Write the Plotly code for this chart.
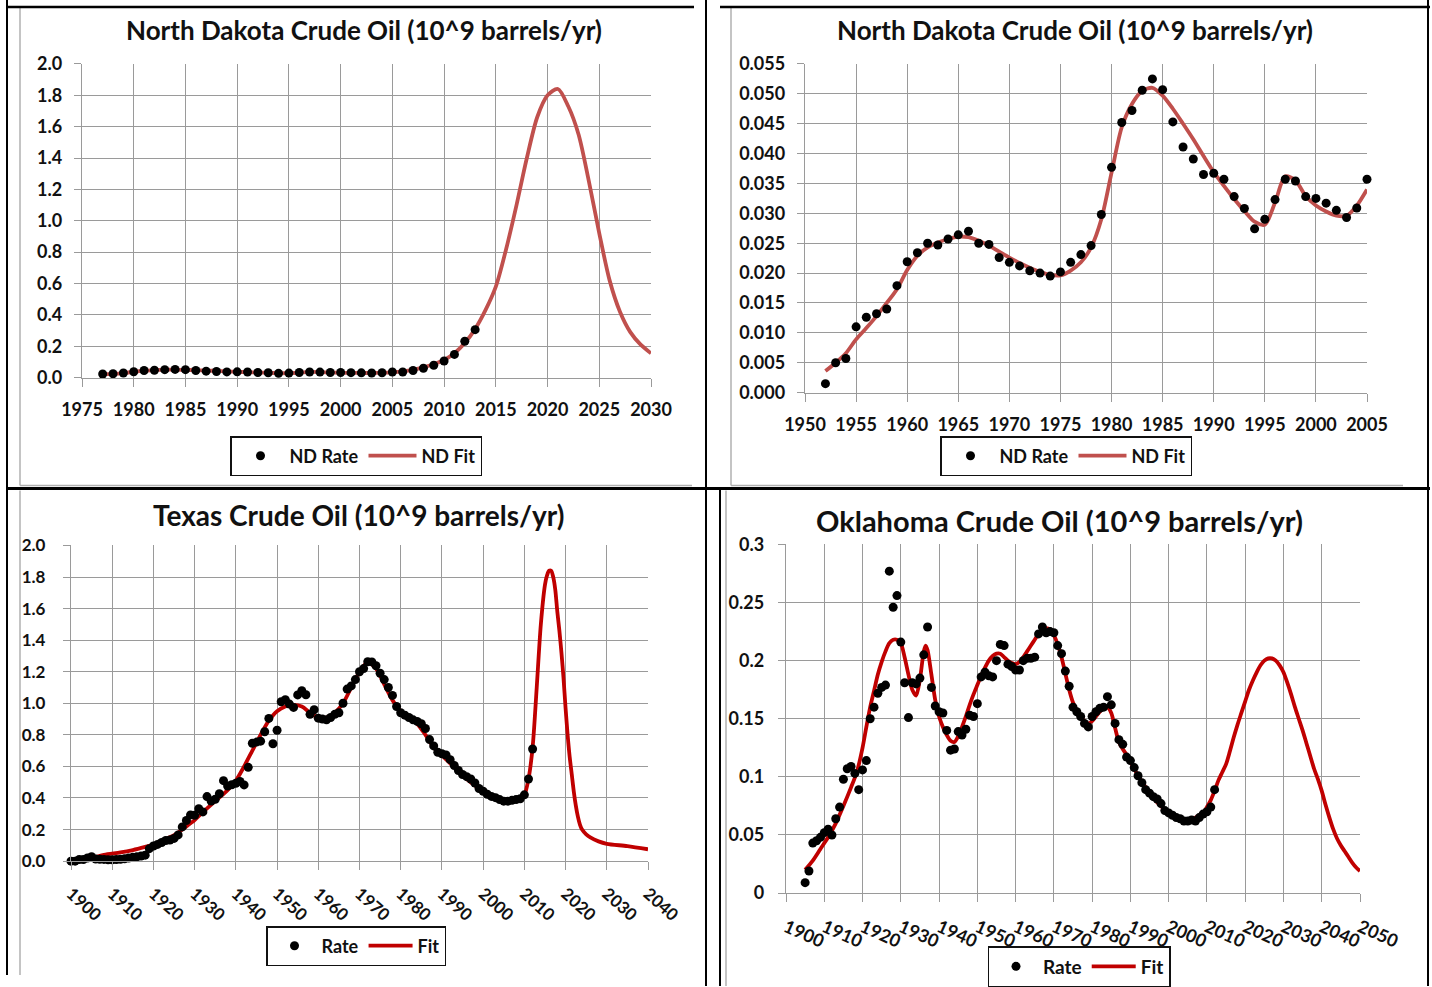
import plotly.graph_objects as go

W, H = 1432, 987

# ---------------- data (10^9 barrels / yr) ----------------
# North Dakota, long view
nd_years_a = list(range(1977, 2014))
nd_rate_a = [0.0231, 0.0246, 0.0298, 0.0377, 0.0452, 0.0472, 0.0506, 0.0525, 0.0507, 0.0453,
             0.0411, 0.0391, 0.0365, 0.0367, 0.0357, 0.0328, 0.0308, 0.0274, 0.0290, 0.0323,
             0.0357, 0.0354, 0.0328, 0.0325, 0.0317, 0.0305, 0.0293, 0.0309, 0.0357, 0.036,
             0.045, 0.060, 0.079, 0.106, 0.148, 0.232, 0.306]
nd_fit_years_a = list(range(1977, 2031))
nd_fit_a = [0.0218, 0.0243, 0.0290, 0.0368, 0.0444, 0.0483, 0.0505, 0.0510, 0.0497, 0.0475,
            0.0450, 0.0424, 0.0396, 0.0369, 0.0346, 0.0324, 0.0304, 0.0286, 0.0281, 0.0318,
            0.0362, 0.0355, 0.0329, 0.0313, 0.0303, 0.0296, 0.0296, 0.0313, 0.0340, 0.040,
            0.050, 0.065, 0.085, 0.112, 0.155, 0.22, 0.31, 0.43, 0.58, 0.82,
            1.10, 1.40, 1.66, 1.80, 1.84, 1.73, 1.55, 1.25, 0.92, 0.62,
            0.42, 0.29, 0.21, 0.155]

# North Dakota, 1952-2005 detail
nd_years_b = list(range(1952, 2006))
nd_rate_b = [0.0015, 0.0050, 0.0057, 0.0110, 0.0126, 0.0132, 0.0140, 0.0179, 0.0219, 0.0234,
             0.0250, 0.0247, 0.0257, 0.0264, 0.0270, 0.0250, 0.0248, 0.0226, 0.0218, 0.0212,
             0.0204, 0.0200, 0.0195, 0.0202, 0.0218, 0.0231, 0.0246, 0.0298, 0.0377, 0.0452,
             0.0472, 0.0506, 0.0525, 0.0507, 0.0453, 0.0411, 0.0391, 0.0365, 0.0367, 0.0357,
             0.0328, 0.0308, 0.0274, 0.0290, 0.0323, 0.0357, 0.0354, 0.0328, 0.0325, 0.0317,
             0.0305, 0.0293, 0.0309, 0.0357]
nd_fit_b = [0.0036, 0.0050, 0.0066, 0.0089, 0.0108, 0.0128, 0.0150, 0.0173, 0.0205, 0.0229,
            0.0243, 0.0251, 0.0257, 0.0261, 0.0260, 0.0254, 0.0246, 0.0236, 0.0226, 0.0217,
            0.0209, 0.0202, 0.0197, 0.0196, 0.0204, 0.0218, 0.0243, 0.0290, 0.0368, 0.0444,
            0.0483, 0.0505, 0.0510, 0.0497, 0.0475, 0.0450, 0.0424, 0.0396, 0.0369, 0.0346,
            0.0324, 0.0304, 0.0286, 0.0281, 0.0318, 0.0362, 0.0355, 0.0329, 0.0313, 0.0303,
            0.0296, 0.0296, 0.0313, 0.0340]

# Texas
tx_years = list(range(1900, 2013))
tx_rate = [0.000, 0.000, 0.010, 0.010, 0.020, 0.028, 0.013, 0.012, 0.011, 0.009,
           0.009, 0.010, 0.012, 0.015, 0.020, 0.024, 0.027, 0.032, 0.038, 0.079,
           0.096, 0.106, 0.118, 0.131, 0.134, 0.144, 0.166, 0.217, 0.257, 0.293,
           0.290, 0.332, 0.312, 0.409, 0.381, 0.392, 0.427, 0.510, 0.476, 0.484,
           0.493, 0.505, 0.483, 0.594, 0.747, 0.754, 0.760, 0.820, 0.904, 0.744,
           0.829, 1.010, 1.023, 0.995, 0.974, 1.053, 1.080, 1.054, 0.930, 0.959,
           0.906, 0.900, 0.895, 0.910, 0.930, 0.940, 1.000, 1.090, 1.110, 1.150,
           1.200, 1.220, 1.263, 1.262, 1.238, 1.190, 1.150, 1.100, 1.050, 0.980,
           0.940, 0.925, 0.910, 0.895, 0.885, 0.870, 0.840, 0.770, 0.730, 0.690,
           0.680, 0.672, 0.643, 0.606, 0.574, 0.549, 0.535, 0.520, 0.495, 0.460,
           0.443, 0.424, 0.410, 0.402, 0.390, 0.380, 0.380, 0.385, 0.390, 0.395,
           0.420, 0.520, 0.710]
tx_fit_years = [1900, 1905, 1908, 1912, 1915, 1918, 1920, 1922, 1925, 1928,
                1930, 1932, 1935, 1938, 1940, 1942, 1944, 1946, 1948, 1950,
                1952, 1954, 1956, 1958, 1960, 1962, 1964, 1966, 1968, 1970,
                1972, 1974, 1976, 1978, 1980, 1982, 1984, 1986, 1988, 1990,
                1992, 1994, 1996, 1998, 2000, 2002, 2004, 2006, 2008, 2009,
                2010, 2011, 2012, 2013, 2014, 2015, 2015.5, 2016, 2016.5, 2017,
                2017.5, 2018, 2018.5, 2019, 2019.5, 2020, 2020.5, 2021, 2021.5, 2022,
                2022.5, 2023, 2023.5, 2024, 2025, 2026, 2028, 2030, 2035, 2040]
tx_fit = [0.005, 0.020, 0.040, 0.055, 0.070, 0.090, 0.105, 0.130, 0.165, 0.220,
          0.260, 0.310, 0.380, 0.450, 0.510, 0.600, 0.700, 0.800, 0.890, 0.950,
          0.980, 0.990, 0.980, 0.940, 0.910, 0.910, 0.940, 1.000, 1.100, 1.200,
          1.260, 1.220, 1.120, 1.020, 0.950, 0.910, 0.870, 0.800, 0.720, 0.670,
          0.620, 0.570, 0.520, 0.480, 0.440, 0.410, 0.390, 0.380, 0.390, 0.400,
          0.420, 0.520, 0.720, 1.100, 1.500, 1.750, 1.810, 1.840, 1.840, 1.800,
          1.720, 1.580, 1.460, 1.320, 1.160, 0.970, 0.800, 0.660, 0.550, 0.440,
          0.350, 0.280, 0.230, 0.200, 0.170, 0.150, 0.125, 0.110, 0.095, 0.075]

# Oklahoma
ok_years = list(range(1905, 2013))
ok_rate = [0.009, 0.019, 0.043, 0.045, 0.048, 0.052, 0.055, 0.050, 0.064, 0.074,
           0.098, 0.107, 0.109, 0.103, 0.089, 0.106, 0.114, 0.150, 0.160, 0.172,
           0.177, 0.179, 0.277, 0.246, 0.256, 0.216, 0.181, 0.151, 0.181, 0.180,
           0.185, 0.205, 0.229, 0.177, 0.161, 0.156, 0.155, 0.140, 0.123, 0.124,
           0.139, 0.136, 0.141, 0.153, 0.152, 0.163, 0.186, 0.190, 0.187, 0.186,
           0.200, 0.214, 0.213, 0.197, 0.195, 0.192, 0.192, 0.200, 0.202, 0.202,
           0.203, 0.223, 0.229, 0.224, 0.225, 0.224, 0.213, 0.206, 0.191, 0.178,
           0.160, 0.156, 0.152, 0.146, 0.143, 0.152, 0.156, 0.159, 0.160, 0.169,
           0.162, 0.146, 0.132, 0.128, 0.117, 0.114, 0.108, 0.101, 0.095, 0.089,
           0.086, 0.083, 0.081, 0.077, 0.071, 0.069, 0.067, 0.065, 0.064, 0.062,
           0.062, 0.063, 0.062, 0.065, 0.068, 0.070, 0.074, 0.089]
ok_fit_years = [1905, 1907, 1909, 1911, 1913, 1915, 1917, 1918.5, 1920, 1921,
                1922, 1923, 1924, 1925, 1926, 1927, 1928, 1929, 1930, 1931,
                1932, 1933, 1934, 1935, 1936, 1936.5, 1937, 1938, 1939, 1940,
                1941, 1942, 1943, 1944, 1945, 1946, 1947, 1948, 1949, 1950,
                1951, 1952, 1953, 1954, 1955, 1956, 1957, 1958, 1959, 1960,
                1961, 1962, 1963, 1964, 1965, 1966, 1967, 1968, 1969, 1970,
                1971, 1972, 1973, 1974, 1975, 1976, 1977, 1978, 1979, 1980,
                1981, 1982, 1983, 1984, 1985, 1986, 1987, 1988, 1989, 1990,
                1991, 1992, 1993, 1994, 1995, 1996, 1997, 1998, 1999, 2000,
                2001, 2002, 2003, 2004, 2005, 2006, 2007, 2008, 2009, 2010,
                2011, 2012, 2013, 2014, 2015, 2016, 2017, 2018, 2019, 2020,
                2021, 2022, 2023, 2024, 2025, 2026, 2027, 2028, 2029, 2030,
                2031, 2032, 2033, 2034, 2035, 2036, 2037, 2038, 2039, 2040,
                2041, 2042, 2043, 2044, 2045, 2046, 2047, 2048, 2049, 2050]
ok_fit = [0.020, 0.028, 0.038, 0.048, 0.060, 0.075, 0.091, 0.104, 0.125, 0.143,
          0.160, 0.174, 0.188, 0.199, 0.208, 0.215, 0.218, 0.218, 0.215, 0.203,
          0.188, 0.175, 0.170, 0.184, 0.208, 0.213, 0.209, 0.188, 0.166, 0.152,
          0.143, 0.136, 0.131, 0.130, 0.135, 0.143, 0.152, 0.162, 0.171, 0.179,
          0.187, 0.194, 0.200, 0.204, 0.206, 0.206, 0.203, 0.200, 0.198, 0.197,
          0.199, 0.203, 0.208, 0.213, 0.218, 0.223, 0.227, 0.228, 0.227, 0.222,
          0.214, 0.203, 0.189, 0.175, 0.164, 0.157, 0.152, 0.148, 0.146, 0.148,
          0.152, 0.156, 0.159, 0.160, 0.155, 0.142, 0.130, 0.124, 0.119, 0.113,
          0.107, 0.101, 0.096, 0.091, 0.086, 0.082, 0.078, 0.075, 0.071, 0.069,
          0.067, 0.065, 0.063, 0.062, 0.062, 0.063, 0.065, 0.067, 0.069, 0.074,
          0.080, 0.088, 0.097, 0.104, 0.111, 0.122, 0.134, 0.145, 0.155, 0.165,
          0.175, 0.183, 0.190, 0.196, 0.200, 0.202, 0.202, 0.200, 0.196, 0.190,
          0.181, 0.171, 0.160, 0.150, 0.140, 0.129, 0.118, 0.107, 0.098, 0.088,
          0.076, 0.065, 0.055, 0.047, 0.041, 0.036, 0.031, 0.026, 0.022, 0.019]

# ---------------- styling ----------------
FONT = "Lato"
GRID = "#9a9a9a"
ND_RED = "#C0504D"
DARK_RED = "#C00000"
INK = "#111111"


def fx(px):
    return px / W


def fy(py):
    return 1 - py / H


fig = go.Figure()

panels = [
    dict(s="", lg="legend", x=(82, 651), y=(64, 378), xr=(1975, 2030), yr=(0, 2.0),
         xt=list(range(1975, 2031, 5)), yt=[i / 10 for i in range(0, 21, 2)],
         ytxt=[f"{i / 10:.1f}" for i in range(0, 21, 2)], fs=18, ang=0, xstand=8, ystand=8,
         years=nd_years_a, rate=nd_rate_a, fy_=nd_fit_years_a, fit=nd_fit_a,
         color=ND_RED, msize=9, names=("ND Rate", "ND Fit"),
         title="North Dakota Crude Oil (10^9 barrels/yr)", tpos=(364, 30), tsize=26,
         legpos=(356, 456), lfs=18, iw=48),
    dict(s="2", lg="legend2", x=(805, 1367), y=(64, 393), xr=(1950, 2005), yr=(0, 0.055),
         xt=list(range(1950, 2006, 5)), yt=[i / 1000 for i in range(0, 56, 5)],
         ytxt=[f"{i / 1000:.3f}" for i in range(0, 56, 5)], fs=18, ang=0, xstand=8, ystand=8,
         years=nd_years_b, rate=nd_rate_b, fy_=nd_years_b, fit=nd_fit_b,
         color=ND_RED, msize=9, names=("ND Rate", "ND Fit"),
         title="North Dakota Crude Oil (10^9 barrels/yr)", tpos=(1075, 30), tsize=26,
         legpos=(1066, 456), lfs=18, iw=48),
    dict(s="3", lg="legend3", x=(71, 648), y=(546, 862), xr=(1900, 2040), yr=(0, 2.0),
         xt=list(range(1900, 2041, 10)), yt=[i / 10 for i in range(0, 21, 2)],
         ytxt=[f"{i / 10:.1f}" for i in range(0, 21, 2)], fs=17, ang=42, xstand=7, ystand=14,
         years=tx_years, rate=tx_rate, fy_=tx_fit_years, fit=tx_fit,
         color=DARK_RED, msize=9, names=("Rate", "Fit"),
         title="Texas Crude Oil (10^9 barrels/yr)", tpos=(358, 516), tsize=28,
         legpos=(356, 946), lfs=18, iw=44),
    dict(s="4", lg="legend4", x=(786, 1360), y=(545, 894), xr=(1900, 2050), yr=(0, 0.3),
         xt=list(range(1900, 2051, 10)), yt=[0, 0.05, 0.1, 0.15, 0.2, 0.25, 0.3],
         ytxt=["0", "0.05", "0.1", "0.15", "0.2", "0.25", "0.3"], fs=18, ang=24, xstand=8,
         ystand=10,
         years=ok_years, rate=ok_rate, fy_=ok_fit_years, fit=ok_fit,
         color=DARK_RED, msize=9, names=("Rate", "Fit"),
         title="Oklahoma Crude Oil (10^9 barrels/yr)", tpos=(1059, 521), tsize=29,
         legpos=(1079, 967), lfs=19, iw=44),
]

annotations = []
layout_axes = {}
legends = {}

for p in panels:
    s = p["s"]
    xa, ya = "x" + s, "y" + s
    # fitted curve first so the dots sit on top of it
    fig.add_trace(go.Scatter(
        x=p["fy_"], y=p["fit"], mode="lines", name=p["names"][1],
        line=dict(color=p["color"], width=3.8, shape="spline", smoothing=0.8),
        xaxis=xa, yaxis=ya, legend=p["lg"], legendrank=2, cliponaxis=False))
    fig.add_trace(go.Scatter(
        x=p["years"], y=p["rate"], mode="markers", name=p["names"][0],
        marker=dict(color="black", size=p["msize"]),
        xaxis=xa, yaxis=ya, legend=p["lg"], legendrank=1, cliponaxis=False))

    tick_font = dict(family=FONT, size=p["fs"], color=INK, weight="bold")
    layout_axes["xaxis" + s] = dict(
        domain=[fx(p["x"][0]), fx(p["x"][1])], range=list(p["xr"]), anchor=ya,
        tickmode="array", tickvals=p["xt"], ticktext=[str(v) for v in p["xt"]],
        showgrid=True, gridcolor=GRID, gridwidth=1.4, zeroline=False,
        showline=True, linecolor=GRID, linewidth=1.4,
        ticks="outside", ticklen=8, tickcolor=GRID, tickwidth=1.4,
        tickangle=p["ang"], tickfont=tick_font, ticklabelstandoff=p["xstand"],
        automargin=False, fixedrange=True)
    layout_axes["yaxis" + s] = dict(
        domain=[fy(p["y"][1]), fy(p["y"][0])], range=list(p["yr"]), anchor=xa,
        tickmode="array", tickvals=p["yt"], ticktext=p["ytxt"],
        showgrid=True, gridcolor=GRID, gridwidth=1.4, zeroline=False,
        showline=True, linecolor=GRID, linewidth=1.4,
        ticks="outside", ticklen=7, tickcolor=GRID, tickwidth=1.4,
        tickfont=tick_font, ticklabelstandoff=p["ystand"],
        automargin=False, fixedrange=True)

    annotations.append(dict(
        text=p["title"], x=fx(p["tpos"][0]), y=fy(p["tpos"][1]), xref="paper", yref="paper",
        xanchor="center", yanchor="middle", showarrow=False,
        font=dict(family=FONT, size=p["tsize"], color=INK, weight="bold")))

    legends[p["lg"]] = dict(
        x=fx(p["legpos"][0]), y=fy(p["legpos"][1]), xanchor="center", yanchor="middle",
        orientation="h", bgcolor="white", bordercolor=INK, borderwidth=1.5,
        font=dict(family=FONT, size=p["lfs"], color=INK, weight="bold"),
        itemwidth=p["iw"], traceorder="normal")

# table frame and chart borders
shapes = []


def seg(x0, y0, x1, y1, color="black", width=2):
    shapes.append(dict(type="line", xref="paper", yref="paper",
                       x0=fx(x0), y0=fy(y0), x1=fx(x1), y1=fy(y1),
                       line=dict(color=color, width=width)))


LIGHT = "#b0b0b0"
# light chart-area outlines
seg(20, 8, 20, 486, LIGHT, 1.5)
seg(20, 486, 692, 486, LIGHT, 1.5)
seg(731, 8, 731, 486, LIGHT, 1.5)
seg(731, 486, 1403, 486, LIGHT, 1.5)
seg(20, 491, 20, 976, LIGHT, 1.5)
seg(726, 491, 726, 987, LIGHT, 1.5)
# black table rules
seg(7, 7, 694, 7, "black", 2.5)
seg(720, 7, 1430, 7, "black", 2.5)
seg(7, 0, 7, 976, "black", 2)
seg(706, 0, 706, 987, "black", 2)
seg(720, 489, 720, 987, "black", 2)
seg(1428, 0, 1428, 987, "black", 2)
seg(7, 489, 1430, 489, "black", 3)

fig.update_layout(
    width=W, height=H, margin=dict(l=0, r=0, t=0, b=0),
    paper_bgcolor="white", plot_bgcolor="white",
    font=dict(family=FONT, color=INK),
    annotations=annotations, shapes=shapes, showlegend=True,
    **layout_axes, **legends)

fig.write_html("out.html")
